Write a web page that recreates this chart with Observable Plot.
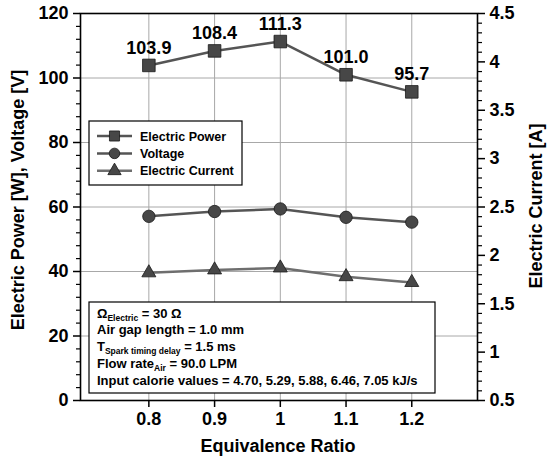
<!DOCTYPE html>
<html><head><meta charset="utf-8">
<script src="https://cdn.jsdelivr.net/npm/d3@7"></script>
<script src="https://cdn.jsdelivr.net/npm/@observablehq/plot@0.6"></script>
<style>
body{margin:0;background:#fff;}
#chart svg{font-family:"Liberation Sans",Arial,sans-serif;font-weight:bold;}
</style></head><body><div id="chart"></div>
<script>
const ratios = [0.8, 0.9, 1.0, 1.1, 1.2];
const power = [103.9, 108.4, 111.3, 101.0, 95.7];
const voltage = [57.1, 58.6, 59.4, 56.8, 55.3];
const current = [1.82, 1.85, 1.87, 1.78, 1.72];
const powerLabels = ["103.9", "108.4", "111.3", "101.0", "95.7"];
const xTicks = [0.8, 0.9, 1.0, 1.1, 1.2];
const leftTicks = [0, 20, 40, 60, 80, 100, 120];
const rightTicks = [0.5, 1, 1.5, 2, 2.5, 3, 3.5, 4, 4.5];
const gridYTicks = [20, 40, 60, 80, 100];
const seriesNames = ["Electric Power", "Voltage", "Electric Current"];
const noteLines = [
  ["Ω", "Electric", " = 30 Ω"],
  ["Air gap length = 1.0 mm", "", ""],
  ["T", "Spark timing delay", " = 1.5 ms"],
  ["Flow rate", "Air", " = 90.0 LPM"],
  ["Input calorie values = 4.70, 5.29, 5.88, 6.46, 7.05 kJ/s", "", ""]
];

const curMin = 0.5, curMax = 4.5, yMax = 120;
const toLeft = c => (c - curMin) / (curMax - curMin) * yMax;
const fromLeft = v => v / yMax * (curMax - curMin) + curMin;

const rows = ratios.map((r, i) => ({r, power: power[i], voltage: voltage[i], cur: toLeft(current[i]), label: powerLabels[i]}));
const leftMinor = d3.range(0, 121, 4).filter(d => !leftTicks.includes(d));
const rightMinor = d3.range(5, 46).filter(d => d % 5 !== 0).map(d => toLeft(d / 10));

const font = '"Liberation Sans", Arial, sans-serif';
const lineCol = "#555", curLineCol = "#6e6e6e", markFill = "#474747", markStroke = "#1a1a1a";

const chart = Plot.plot({
  width: 549, height: 460,
  marginLeft: 80, marginRight: 72, marginTop: 13, marginBottom: 60,
  style: {fontFamily: font, fontSize: "18px", fontWeight: "bold", color: "black", background: "white", overflow: "visible"},
  x: {domain: [0.696, 1.3]},
  y: {domain: [0, 120]},
  marks: [
    Plot.gridX(xTicks, {stroke: "#a8a8a8", strokeOpacity: 1, strokeWidth: 1}),
    Plot.gridY(gridYTicks, {stroke: "#a8a8a8", strokeOpacity: 1, strokeWidth: 1}),
    Plot.axisX(xTicks, {tickSize: 7, tickPadding: 5, tickFormat: d => String(d), label: null, stroke: "black", strokeWidth: 1.5}),
    Plot.axisY(leftTicks, {anchor: "left", tickSize: 7, tickPadding: 5, label: null, stroke: "black", strokeWidth: 1.5}),
    Plot.axisY(leftMinor, {anchor: "left", tickSize: 4, text: null, label: null, stroke: "black", strokeWidth: 1.2}),
    Plot.axisY(rightTicks.map(toLeft), {anchor: "right", tickSize: 7, tickPadding: 5, tickFormat: d => String(+fromLeft(d).toFixed(2)), label: null, stroke: "black", strokeWidth: 1.5}),
    Plot.axisY(rightMinor, {anchor: "right", tickSize: 4, text: null, label: null, stroke: "black", strokeWidth: 1.2}),
    Plot.frame({stroke: "black", strokeWidth: 1.6}),
    Plot.line(rows, {x: "r", y: "cur", stroke: curLineCol, strokeWidth: 2.5}),
    Plot.dot(rows, {x: "r", y: "cur", symbol: "triangle", r: 5.2, fill: markFill, stroke: markStroke, strokeWidth: 0.8}),
    Plot.line(rows, {x: "r", y: "voltage", stroke: lineCol, strokeWidth: 2.5}),
    Plot.dot(rows, {x: "r", y: "voltage", symbol: "circle", r: 6.2, fill: markFill, stroke: markStroke, strokeWidth: 0.8}),
    Plot.line(rows, {x: "r", y: "power", stroke: lineCol, strokeWidth: 2.5}),
    Plot.dot(rows, {x: "r", y: "power", symbol: "square", r: 7.1, fill: markFill, stroke: markStroke, strokeWidth: 0.8}),
    Plot.text(rows, {x: "r", y: "power", text: "label", dy: -17.5, fontSize: 18, fontWeight: "bold", fill: "black"})
  ]
});
document.getElementById("chart").appendChild(chart);

const svg = d3.select(chart);
// axis titles
svg.append("text").attr("transform", "translate(24,200) rotate(-90)").attr("text-anchor", "middle")
  .attr("font-size", 18).attr("font-weight", "bold").attr("font-family", font).text("Electric Power [W], Voltage [V]");
svg.append("text").attr("transform", "translate(542,206) rotate(-90)").attr("text-anchor", "middle")
  .attr("font-size", 18).attr("font-weight", "bold").attr("font-family", font).text("Electric Current [A]");
svg.append("text").attr("x", 278).attr("y", 452).attr("text-anchor", "middle")
  .attr("font-size", 18).attr("font-weight", "bold").attr("font-family", font).text("Equivalence Ratio");

// legend
const lg = svg.append("g").attr("text-anchor", "start");
lg.append("rect").attr("x", 89).attr("y", 121).attr("width", 153).attr("height", 64)
  .attr("fill", "white").attr("stroke", "black").attr("stroke-width", 1.2);
const syms = [[d3.symbolSquare, 7.1 * 0.8], [d3.symbolCircle, 6.2 * 0.85], [d3.symbolTriangle, 5.2 * 0.95]];
const lcols = [lineCol, lineCol, curLineCol];
seriesNames.forEach((name, i) => {
  const cy = 136 + i * 17.4;
  lg.append("line").attr("x1", 97).attr("x2", 132).attr("y1", cy).attr("y2", cy)
    .attr("stroke", lcols[i]).attr("stroke-width", 2.5);
  lg.append("path").attr("transform", `translate(114.5,${cy})`)
    .attr("d", d3.symbol(syms[i][0], Math.PI * syms[i][1] * syms[i][1])())
    .attr("fill", markFill).attr("stroke", markStroke).attr("stroke-width", 0.8);
  lg.append("text").attr("x", 140).attr("y", cy + 4.5).attr("font-size", 12.5).attr("text-anchor", "start")
    .attr("font-weight", "bold").attr("font-family", font).text(name);
});

// note box
const nb = svg.append("g").attr("text-anchor", "start");
nb.append("rect").attr("x", 89).attr("y", 302).attr("width", 346).attr("height", 91)
  .attr("fill", "white").attr("stroke", "black").attr("stroke-width", 1.2);
noteLines.forEach((parts, i) => {
  const t = nb.append("text").attr("x", 97).attr("y", 317.5 + i * 16.9).attr("font-size", 13)
    .attr("text-anchor", "start").attr("font-weight", "bold").attr("font-family", font);
  t.append("tspan").text(parts[0]);
  if (parts[1]) {
    t.append("tspan").attr("font-size", 8.5).attr("dy", 3).text(parts[1]);
    t.append("tspan").attr("dy", -3).text(parts[2]);
  }
});
</script></body></html>
